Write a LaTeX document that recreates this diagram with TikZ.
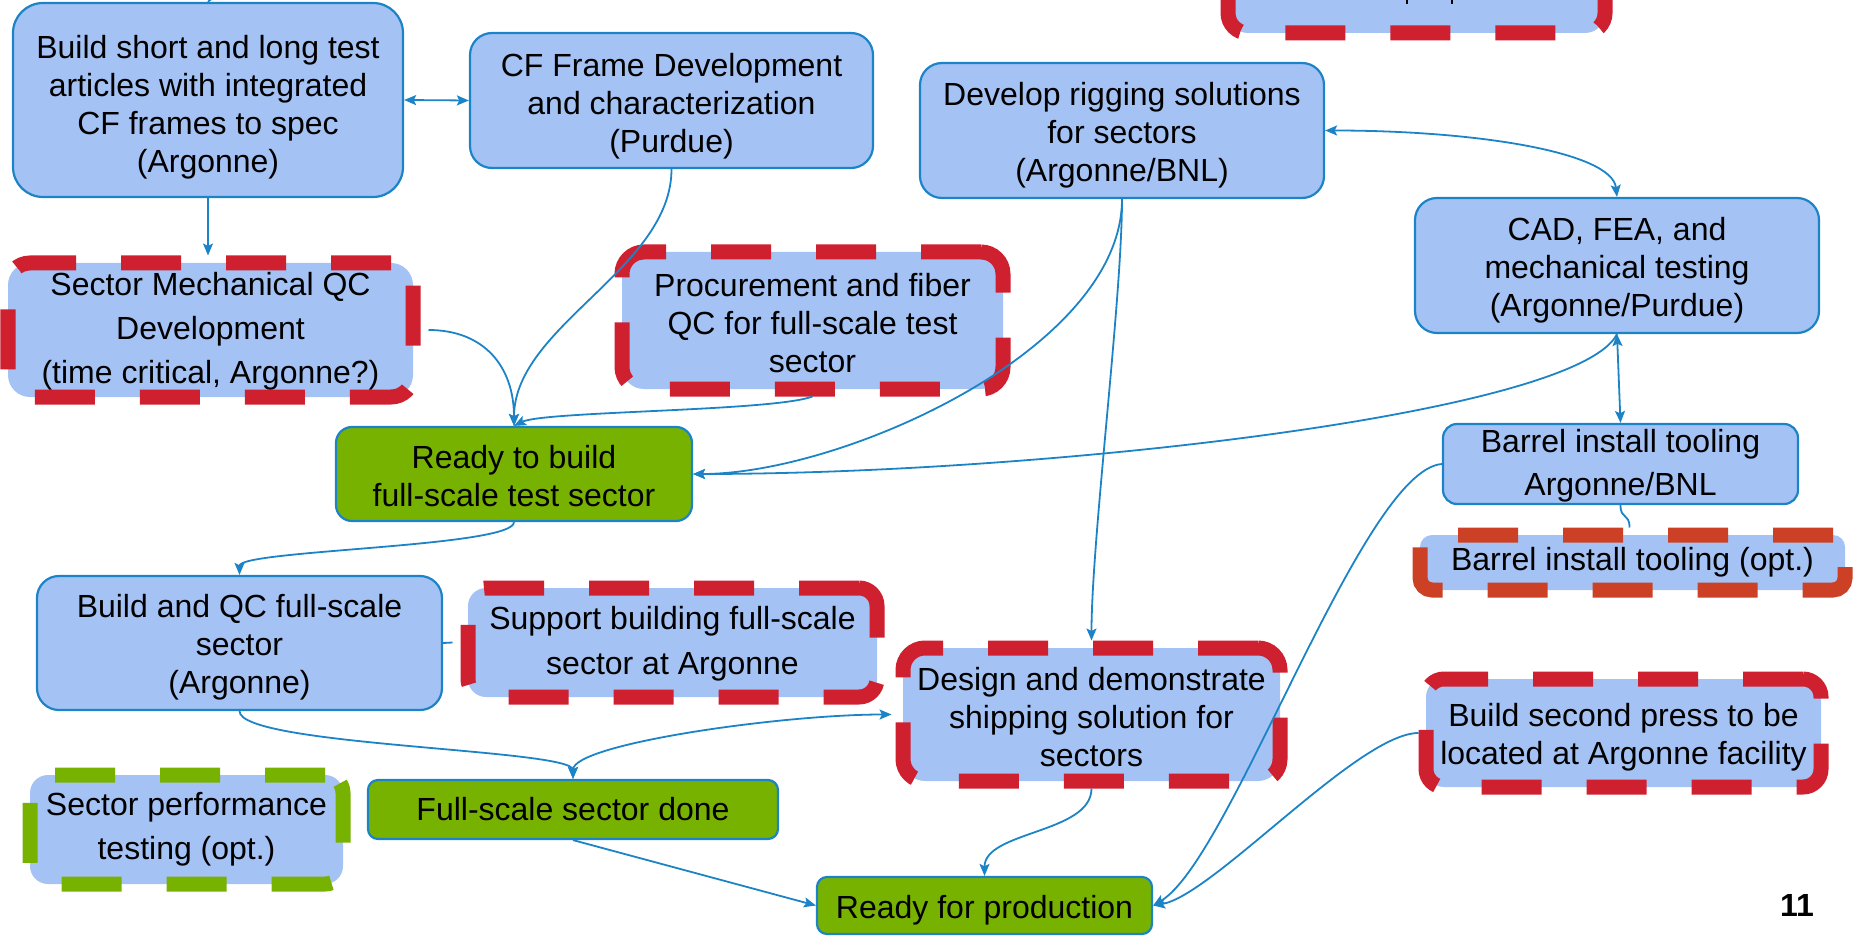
\documentclass[tikz,border=0pt]{standalone}
\usepackage{fontspec}
\setmainfont{Liberation Sans}
\usetikzlibrary{arrows.meta}
\definecolor{boxblue}{HTML}{A4C2F4}
\definecolor{edgeblue}{HTML}{1C84C6}
\definecolor{boxgreen}{HTML}{78B200}
\definecolor{dashred}{HTML}{CF2030}
\definecolor{dashorange}{HTML}{CC4125}
\newcommand{\lowerby}[1]{\rule{0pt}{#1}}
\begin{document}
\begin{tikzpicture}[x=0.5pt,y=-0.5pt,
  base/.style={align=center, inner sep=0pt, text=black, font=\fontsize{16pt}{19pt}\selectfont},
  wide/.style={font=\fontsize{16pt}{21.5pt}\selectfont},
  bluebox/.style={base, fill=boxblue, draw=edgeblue, line width=1.1pt},
  greenbox/.style={base, fill=boxgreen, draw=edgeblue, line width=1.1pt},
  redbox/.style={base, fill=boxblue, draw=dashred, line width=7.5pt, dash pattern=on 30pt off 22.5pt},
  orangebox/.style={redbox, draw=dashorange},
  greendash/.style={redbox, draw=boxgreen},
  sz/.style 2 args={minimum width=#1, minimum height=#2},
  conn/.style={draw=edgeblue, line width=0.9pt},
  arr/.style={conn, -{Stealth[length=6pt,width=5pt,inset=1.2pt]}},
  arrboth/.style={conn, {Stealth[length=6pt,width=5pt,inset=1.2pt]}-{Stealth[length=6pt,width=5pt,inset=1.2pt]}}
]
\useasboundingbox (0,0) rectangle (1853,936);

% nodes
\node[bluebox, sz={195pt}{97pt}, rounded corners=15pt] (A) at (208,100)
  {\lowerby{18.7pt}Build short and long test\\articles with integrated\\CF frames to spec\\(Argonne)};
\node[bluebox, sz={201.5pt}{67.5pt}, rounded corners=11pt] (B) at (671.5,100.5)
  {\lowerby{17.7pt}CF Frame Development\\and characterization\\(Purdue)};
\node[redbox, font=\fontsize{16pt}{22pt}\selectfont, sz={202.5pt}{67pt}, rounded corners=11pt] (C) at (210.5,330)
  {\lowerby{12.8pt}Sector Mechanical QC\\Development\\(time critical, Argonne?)};
\node[redbox, sz={190.5pt}{68.5pt}, rounded corners=11pt] (D) at (812.5,320.5)
  {\lowerby{14pt}Procurement and fiber\\QC for full-scale test\\sector};
\node[bluebox, sz={202pt}{67.5pt}, rounded corners=11pt] (E) at (1122,130.5)
  {\lowerby{16.5pt}Develop rigging solutions\\for sectors\\(Argonne/BNL)};
\node[bluebox, sz={202pt}{67.5pt}, rounded corners=11pt] (F) at (1617,265.5)
  {\lowerby{16.5pt}CAD, FEA, and\\mechanical testing\\(Argonne/Purdue)};
\node[redbox, sz={188.5pt}{116.5pt}, rounded corners=10pt] (G) at (1416.5,-83.5) {};
\node[greenbox, sz={178pt}{47pt}, rounded corners=8pt] (H) at (514,474)
  {\lowerby{14pt}Ready to build\\full-scale test sector};
\node[bluebox, sz={202.5pt}{67pt}, rounded corners=11pt] (I) at (239.5,643)
  {\lowerby{15.7pt}Build and QC full-scale\\sector\\(Argonne)};
\node[redbox, font=\fontsize{16pt}{22.5pt}\selectfont, sz={204.5pt}{54.5pt}, rounded corners=9pt] (J) at (672.5,642.5)
  {\lowerby{12.5pt}Support building full-scale\\sector at Argonne};
\node[greendash, font=\fontsize{16pt}{22pt}\selectfont, sz={156.5pt}{54.5pt}, rounded corners=9pt] (K) at (186.5,829.5)
  {Sector performance\\testing (opt.)};
\node[greenbox, sz={205pt}{29.5pt}, rounded corners=5pt] (L) at (573,809.5)
  {Full-scale sector done};
\node[greenbox, sz={167.5pt}{28.5pt}, rounded corners=5pt] (M) at (984.5,905.5)
  {\lowerby{16pt}Ready for production};
\node[bluebox, wide, sz={177.5pt}{40pt}, rounded corners=7pt] (N) at (1620.5,464)
  {\lowerby{13pt}Barrel install tooling\\Argonne/BNL};
\node[orangebox, sz={212.5pt}{27.5pt}, rounded corners=6pt] (O) at (1632.5,562.5)
  {Barrel install tooling (opt.)};
\node[redbox, sz={188.5pt}{66.5pt}, rounded corners=11pt] (P) at (1091.5,714.5)
  {\lowerby{14pt}Design and demonstrate\\shipping solution for\\sectors};
\node[redbox, sz={197.5pt}{54pt}, rounded corners=9pt] (Q) at (1623.5,733)
  {\lowerby{16pt}Build second press to be\\located at Argonne facility};
\node[base, font=\fontsize{16pt}{19pt}\selectfont\bfseries] (pg) at (1797,905) {11};

% descenders of the cut-off text in the top box
\draw[black, line width=1.4pt] (1407,0) -- (1407,4);
\draw[black, line width=1.4pt] (1452,0) -- (1452,4);

% connectors
\coordinate (Ain) at (232,-6);
\draw[conn] (A.north) .. controls +(2,-4) and +(-8,1) .. (Ain);
\draw[arrboth] (A.east) -- (B.west);
\draw[arr] (A.south) -- (A.south |- C.north);
\draw[arr] (B.south) .. controls +(0,100) and +(0,-100) .. (H.north);
\draw[arr] ([xshift=4pt]C.east) .. controls +(55,0) and +(0,-60) .. (H.north);
\draw[arr] (D.south) .. controls +(-40,15) and +(30,-15) .. (H.north);
\draw[arr] (E.south) .. controls +(0,150) and +(150,0) .. (H.east);
\draw[arr] (F.south) .. controls +(-40,80) and +(350,0) .. (H.east);
\draw[arrboth] (E.east) .. controls +(150,0) and +(-5,-45) .. (F.north);
\draw[arrboth] (F.south) -- (N.north);
\draw[arr] (E.south) .. controls +(0,100) and +(0,-100) .. (P.north);
\draw[arr] (H.south) .. controls +(0,25) and +(0,-25) .. (I.north);
\draw[conn] (I.east) -- ([xshift=-4pt]J.west);
\draw[arr] (I.south) .. controls +(0,35) and +(0,-30) .. (L.north);
\draw[arrboth] (L.north) .. controls +(0,-35) and +(-110,0) .. ([xshift=-2pt]P.west);
\draw[arr] (L.south) -- (M.west);
\draw[arr] (P.south) .. controls +(0,45) and +(0,-45) .. (M.north);
\draw[arr] (N.west) .. controls +(-80,6) and +(78,-46) .. (M.east);
\draw[arr] (Q.west) .. controls +(-60,0) and +(60,-10) .. (M.east);
\draw[conn] (N.south) .. controls +(0,15) and +(0,-15) .. ([xshift=-1.5pt]O.north);
\end{tikzpicture}
\end{document}
